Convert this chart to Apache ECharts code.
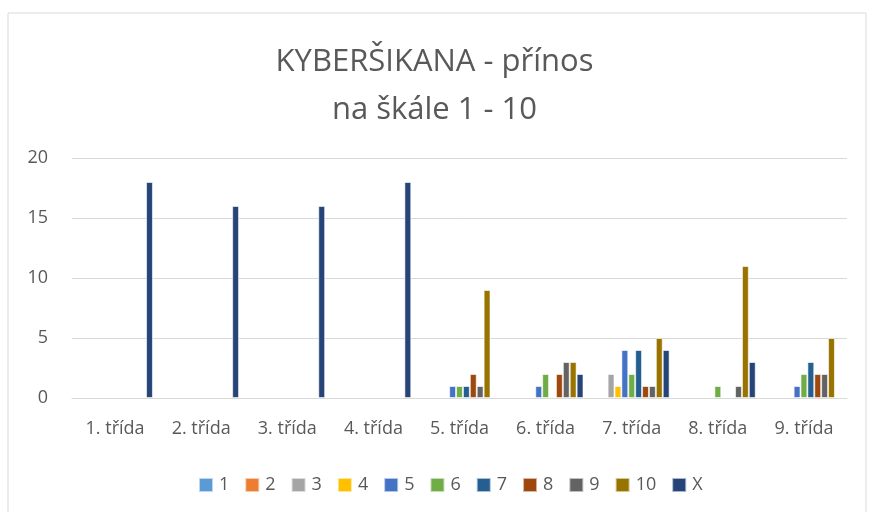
<!DOCTYPE html>
<html>
<head>
<meta charset="utf-8">
<script src="https://cdn.jsdelivr.net/npm/echarts@6/dist/echarts.min.js"></script>
<style>
  html, body { margin: 0; padding: 0; background: #fff; }
  #chart { width: 869px; height: 512px; }
</style>
</head>
<body>
<div id="chart"></div>
<script>
// categories (classes)
const categories = ["1. třída", "2. třída", "3. třída", "4. třída", "5. třída", "6. třída", "7. třída", "8. třída", "9. třída"];
// series names = rating on the 1-10 scale, X = no answer
const seriesNames = ["1", "2", "3", "4", "5", "6", "7", "8", "9", "10", "X"];
const s1 = [null, null, null, null, null, null, null, null, null];
const s2 = [null, null, null, null, null, null, null, null, null];
const s3 = [null, null, null, null, null, null, 2, null, null];
const s4 = [null, null, null, null, null, null, 1, null, null];
const s5 = [null, null, null, null, 1, 1, 4, null, 1];
const s6 = [null, null, null, null, 1, 2, 2, 1, 2];
const s7 = [null, null, null, null, 1, null, 4, null, 3];
const s8 = [null, null, null, null, 2, 2, 1, null, 2];
const s9 = [null, null, null, null, 1, 3, 1, 1, 2];
const s10 = [null, null, null, null, 9, 3, 5, 11, 5];
const sX = [18, 16, 16, 18, null, 2, 4, 3, null];
const yTicks = [0, 5, 10, 15, 20];

const seriesData = [s1, s2, s3, s4, s5, s6, s7, s8, s9, s10, sX];
const colors = ["#5B9BD5", "#ED7D31", "#A5A5A5", "#FFC000", "#4472C4", "#70AD47", "#255E91", "#9E480E", "#636363", "#997300", "#264478"];
const textColor = "#595959";
const font = "Open Sans";

const chart = echarts.init(document.getElementById("chart"));

const option = {
  animation: false,
  backgroundColor: "#fff",
  color: colors,
  title: {
    text: "KYBERŠIKANA - přínos\nna škále 1 - 10",
    left: "center",
    top: 33,
    textStyle: {
      fontFamily: font,
      fontWeight: "normal",
      fontSize: 31,
      lineHeight: 48,
      color: textColor
    }
  },
  legend: {
    data: seriesNames,
    top: 471,
    left: 193,
    itemWidth: 14,
    itemHeight: 14,
    itemGap: 15,
    icon: "rect",
    textStyle: { fontFamily: font, fontSize: 18, color: textColor, padding: [0, 0, 0, 1] }
  },
  grid: {
    left: 72,
    right: 22,
    top: 158,
    bottom: 114
  },
  xAxis: {
    type: "category",
    data: categories,
    axisLine: { lineStyle: { color: "#D9D9D9", width: 1 } },
    axisTick: { show: false },
    axisLabel: { color: textColor, fontFamily: font, fontSize: 18, margin: 22 }
  },
  yAxis: {
    type: "value",
    min: yTicks[0],
    max: yTicks[yTicks.length - 1],
    interval: 5,
    axisLine: { show: false },
    axisTick: { show: false },
    splitLine: { lineStyle: { color: "#D9D9D9", width: 1 } },
    axisLabel: { color: textColor, fontFamily: font, fontSize: 18, margin: 24 }
  },
  graphic: [{
    type: "rect",
    shape: { x: 8, y: 13, width: 858, height: 520 },
    style: { fill: "none", stroke: "#D9D9D9", lineWidth: 1 },
    silent: true,
    z: -1
  }],
  series: seriesNames.map((name, i) => ({
    name: name,
    type: "bar",
    data: seriesData[i],
    barGap: "0%",
    barCategoryGap: "12%",
    itemStyle: {
      color: colors[i],
      borderColor: "rgba(255,255,255,0.6)",
      borderWidth: 1
    }
  }))
};

chart.setOption(option);
window.addEventListener("resize", () => chart.resize());
</script>
</body>
</html>
